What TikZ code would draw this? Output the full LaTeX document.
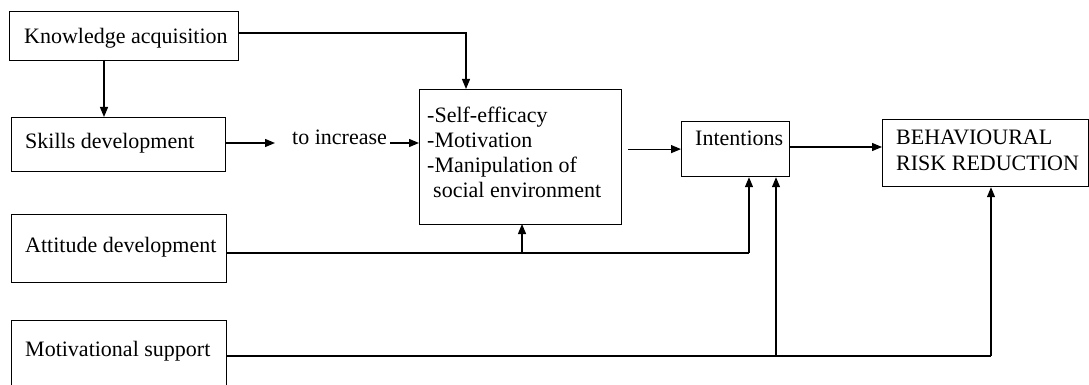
\documentclass[tikz,border=0pt]{standalone}
\usepackage{fontspec}
\setmainfont{Liberation Serif}
\usetikzlibrary{arrows.meta,calc}
\tikzset{
  box/.style={draw=black, line width=1.2pt, rectangle, inner sep=0pt, anchor=north west},
  lbl/.style={inner sep=0pt, anchor=base west, font=\fontsize{22}{25}\selectfont},
  conn/.style={draw=black, line width=1.2pt},
  arr/.style={conn, -{Triangle[length=10pt,width=8pt]}}
}
\begin{document}
\begin{tikzpicture}[x=1pt,y=-1pt]
\clip (0,0) rectangle (1089,385);
\fill[white] (0,0) rectangle (1089,385);
% boxes
\node[box, minimum width=229, minimum height=49] (know) at (9,11) {};
\node[box, minimum width=214, minimum height=54] (skills) at (11,117) {};
\node[box, minimum width=215, minimum height=68] (att) at (11,214) {};
\node[box, minimum width=215, minimum height=120] (mot) at (11,320) {};
\node[box, minimum width=202, minimum height=135] (mid) at (419,89) {};
\node[box, minimum width=108, minimum height=55] (int) at (681,121) {};
\node[box, minimum width=206, minimum height=67] (beh) at (882,119) {};
% texts
\node[lbl] (tknow) at (24,44) {Knowledge acquisition};
\node[lbl] (tskills) at (25,148) {Skills development};
\node[lbl] (tatt) at (25,252) {Attitude development};
\node[lbl] (tmot) at (25,356) {Motivational support};
\node[lbl, align=left] (tmid) at (427,197) {-Self-efficacy\\-Motivation\\-Manipulation of\\\hspace{6pt}social environment};
\node[lbl] (tint) at (695,146) {Intentions};
\node[lbl, align=left] (tbeh) at (896,170) {BEHAVIOURAL\\RISK REDUCTION};
\node[lbl, inner xsep=3pt] (inc) at (289,145) {to increase};
% junctions
\coordinate (j1) at (749,253);
\coordinate (j2) at (991,356);
\coordinate (j3) at (776,356);
\coordinate (k1) at (466,33);
\coordinate (k2) at (104,60);
% connectors
\draw[arr] (know.east |- k1) -- (k1) -- (k1 |- mid.north);
\draw[arr] (k2) -- (k2 |- skills.north);
\draw[arr, shorten >=14pt] (skills.east |- 0,143) -- (inc.west |- 0,143);
\draw[arr] (inc.east |- 0,143) -- (mid.west |- 0,143);
\draw[arr, shorten <=6pt] (int.west -| mid.east) -- (int.west);
\draw[arr] (int.east |- 0,147) -- (beh.west |- 0,147);
\draw[conn] (att.east |- j1) -- (j1);
\draw[arr] (j1) -- (j1 |- int.south);
\draw[arr] (522,253) -- (522,224);
\draw[conn] (mot.east |- j2) -- (j2);
\draw[arr] (j2) -- (j2 |- beh.south);
\draw[arr] (j3) -- (j3 |- int.south);
\end{tikzpicture}
\end{document}
